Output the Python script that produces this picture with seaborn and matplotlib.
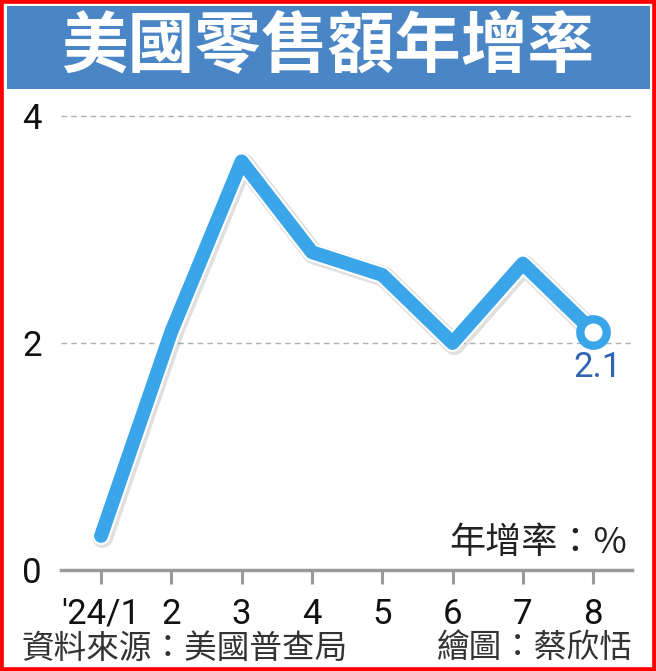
import matplotlib
matplotlib.use("Agg")
import matplotlib.pyplot as plt
import matplotlib.patheffects as pe
from matplotlib.patches import Rectangle
import seaborn as sns
import pandas as pd

# ---- data ----
months = ["'24/1", "2", "3", "4", "5", "6", "7", "8"]
growth = [0.3, 2.1, 3.6, 2.8, 2.6, 2.0, 2.7, 2.1]
y_ticks = [0, 2, 4]
title = "美國零售額年增率"
unit_label = "年增率：%"
source = "資料來源：美國普查局"
credit = "繪圖：蔡欣恬"

df = pd.DataFrame({"idx": list(range(len(months))), "growth": growth})

sns.set_theme(style="white")
plt.rcParams['font.family'] = ['Roboto', 'Noto Sans CJK TC', 'DejaVu Sans']

W, H = 656, 671
fig = plt.figure(figsize=(W / 100, H / 100), dpi=100)
fig.patch.set_facecolor("white")

# axes placement (pixels -> fig fraction)
ax_left, ax_right, ax_bottom = 61, 632, 570
unit = 113.5
ymax = 4.1
ax_top = ax_bottom - ymax * unit
ax = fig.add_axes([ax_left / W, (H - ax_bottom) / H,
                   (ax_right - ax_left) / W, (ax_bottom - ax_top) / H])
ax.set_facecolor("none")

line_blue = "#3aa5e8"
sns.lineplot(data=df, x="idx", y="growth", ax=ax, color=line_blue,
             linewidth=10, solid_capstyle="round", solid_joinstyle="round",
             zorder=5)
ln = ax.lines[0]
ln.set_path_effects([
    pe.SimpleLineShadow(offset=(1.2, -1.2), shadow_color="black", alpha=0.12, linewidth=15),
    pe.Stroke(linewidth=13, foreground="white"),
    pe.Normal(),
])

# end marker
last = df.iloc[[-1]]
ax.plot(last["idx"], last["growth"], linestyle="none", marker="o",
        markersize=19, markerfacecolor="white", markeredgecolor=line_blue,
        markeredgewidth=6, zorder=6)
ax.annotate(f"{growth[-1]}", (last["idx"].iloc[0], last["growth"].iloc[0]),
            xytext=(3, -26), textcoords="offset points", ha="center", va="center",
            fontsize=25, color="#2f66b3", family=["Roboto", "DejaVu Sans"], zorder=7)

# grid lines
for yv in y_ticks[1:]:
    ax.axhline(yv, color="#b0b0b0", linewidth=1.0, linestyle=(0, (4, 3)), zorder=1)

ax.set_xlim(-0.569, 7.553)
ax.set_ylim(0, ymax)
ax.set_xticks(range(len(months)))
ax.set_xticklabels(months)
ax.set_yticks(y_ticks)
ax.set_yticklabels([str(v) for v in y_ticks])
ax.set_xlabel("")
ax.set_ylabel("")

for s in ["top", "right", "left"]:
    ax.spines[s].set_visible(False)
ax.spines["bottom"].set_color("#9a9a9a")
ax.spines["bottom"].set_linewidth(2.5)

ax.tick_params(axis="x", which="both", bottom=True, length=10, width=2.2,
               color="#9a9a9a", direction="out", pad=10, labelsize=25,
               labelcolor="#111111")
ax.tick_params(axis="y", which="both", left=False, length=0, pad=14,
               labelsize=25, labelcolor="#111111")

# unit label
ax.text((627 - ax_left) / (ax_right - ax_left), 27 / (ax_bottom - ax_top), unit_label,
        transform=ax.transAxes, ha="right", va="center", fontsize=26, color="#222222",
        family=["Noto Sans CJK TC", "DejaVu Sans"])

# banner
fig.patches.append(Rectangle((6.5 / W, (H - 89) / H), 643.5 / W, 83 / H,
                             transform=fig.transFigure, facecolor="#4a86c6",
                             edgecolor="none", zorder=0))
fig.text(0.5, 1 - 47 / H, title, ha="center", va="center", fontsize=48,
         color="white", fontweight="bold", family=["Noto Sans CJK TC"])

# footer
fig.text(21 / W, 1 - 649 / H, source, ha="left", va="center", fontsize=23.5,
         color="#333333", family=["Noto Sans CJK TC"])
fig.text(633 / W, 1 - 648 / H, credit, ha="right", va="center", fontsize=23.5,
         color="#333333", family=["Noto Sans CJK TC"])

# red border
fig.patches.append(Rectangle((0, 0), 1, 1, transform=fig.transFigure, fill=False,
                             edgecolor="#ff0000", linewidth=5.5, zorder=10))

fig.savefig("out.png", dpi=100)
